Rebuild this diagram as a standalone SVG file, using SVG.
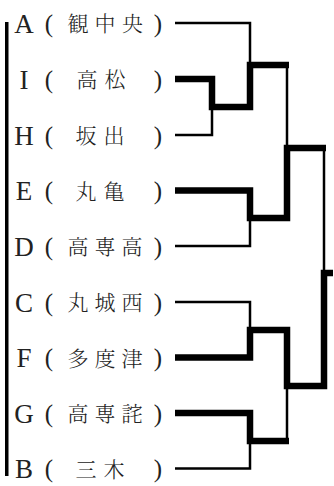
<svg xmlns="http://www.w3.org/2000/svg" width="334" height="486" viewBox="0 0 334 486">
<style>
.lt{font-family:"Liberation Serif","Noto Serif CJK JP","Noto Sans CJK JP",serif;font-size:27px;fill:#222;text-anchor:middle}
.p{font-family:"Liberation Serif","Noto Sans CJK JP",serif;font-size:25px;fill:#222;text-anchor:middle}
.cj{font-family:"Noto Serif CJK JP","Noto Sans CJK JP",serif;font-size:21px;fill:#222;text-anchor:middle;font-weight:300}
.thin{fill:none;stroke:#000;stroke-width:2.5}
.thick{fill:none;stroke:#000;stroke-width:6.5;stroke-linejoin:miter}
</style>
<rect x="5" y="22" width="3.5" height="454" fill="#000"/>
<g id="team-A"><text class="lt" x="24" y="32.5">A</text><text class="p" x="49" y="31.5">(</text><text class="cj" x="78" y="31">観</text><text class="cj" x="105" y="31">中</text><text class="cj" x="132.5" y="31">央</text><text class="p" x="158" y="31.5">)</text></g>
<g id="team-I"><text class="lt" x="24" y="88.5">I</text><text class="p" x="49" y="87.5">(</text><text class="cj" x="87" y="87">高</text><text class="cj" x="115" y="87">松</text><text class="p" x="158" y="87.5">)</text></g>
<g id="team-H"><text class="lt" x="24" y="144.5">H</text><text class="p" x="49" y="143.5">(</text><text class="cj" x="86" y="143">坂</text><text class="cj" x="114" y="143">出</text><text class="p" x="158" y="143.5">)</text></g>
<g id="team-E"><text class="lt" x="24" y="200">E</text><text class="p" x="49" y="199">(</text><text class="cj" x="86" y="198.5">丸</text><text class="cj" x="114" y="198.5">亀</text><text class="p" x="158" y="199">)</text></g>
<g id="team-D"><text class="lt" x="24" y="255.5">D</text><text class="p" x="49" y="254.5">(</text><text class="cj" x="78" y="254">高</text><text class="cj" x="105" y="254">専</text><text class="cj" x="132" y="254">高</text><text class="p" x="158" y="254.5">)</text></g>
<g id="team-C"><text class="lt" x="24" y="311.5">C</text><text class="p" x="49" y="310.5">(</text><text class="cj" x="78" y="310">丸</text><text class="cj" x="105" y="310">城</text><text class="cj" x="132" y="310">西</text><text class="p" x="158" y="310.5">)</text></g>
<g id="team-F"><text class="lt" x="24" y="367">F</text><text class="p" x="49" y="366">(</text><text class="cj" x="78" y="365.5">多</text><text class="cj" x="105" y="365.5">度</text><text class="cj" x="132" y="365.5">津</text><text class="p" x="158" y="366">)</text></g>
<g id="team-G"><text class="lt" x="24" y="422.5">G</text><text class="p" x="49" y="421.5">(</text><text class="cj" x="78" y="421">高</text><text class="cj" x="105" y="421">専</text><text class="cj" x="132" y="421">詫</text><text class="p" x="158" y="421.5">)</text></g>
<g id="team-B"><text class="lt" x="24" y="478">B</text><text class="p" x="49" y="477">(</text><text class="cj" x="86" y="476.5">三</text><text class="cj" x="114" y="476.5">木</text><text class="p" x="158" y="477">)</text></g>
<g id="connectors">
<path class="thin" d="M175,23 H250 V65"/>
<path class="thin" d="M175,135 H212 V107"/>
<path class="thin" d="M175,246 H250 V218"/>
<path class="thin" d="M287,65 V148"/>
<path class="thin" d="M324,148 V273"/>
<path class="thin" d="M175,302 H250 V330"/>
<path class="thin" d="M175,468.5 H250 V441"/>
<path class="thin" d="M287,441 V386"/>
<path class="thick" d="M175,79 H212 V107 H250 V65 H289"/>
<path class="thick" d="M175,190.5 H250 V218 H287 V148 H326"/>
<path class="thick" d="M175,357.5 H250 V330 H287 V386 H324 V273 H333"/>
<path class="thick" d="M175,413 H250 V441 H289"/>
</g>
</svg>
